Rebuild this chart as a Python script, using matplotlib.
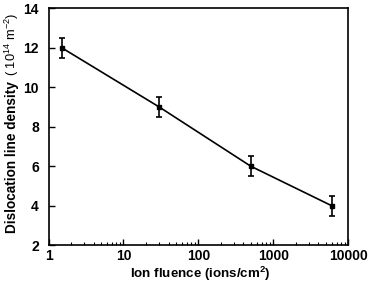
import matplotlib
matplotlib.use("Agg")
import matplotlib.pyplot as plt
from matplotlib.ticker import LogLocator, NullFormatter

fluence = [1.5, 30, 500, 6000]
density = [12, 9, 6, 4]
err = [0.5, 0.5, 0.5, 0.5]
xticks = [1, 10, 100, 1000, 10000]
xticklabels = ["1", "10", "100", "1000", "10000"]
yticks = [2, 4, 6, 8, 10, 12, 14]

plt.rcParams['font.family'] = ['Liberation Sans', 'DejaVu Sans']
plt.rcParams['mathtext.fontset'] = 'custom'
plt.rcParams['mathtext.rm'] = 'Liberation Sans'
plt.rcParams['mathtext.bf'] = 'Liberation Sans:bold'
plt.rcParams['mathtext.default'] = 'regular'

fig = plt.figure(figsize=(3.68, 2.87), dpi=100)
ax = fig.add_axes([0.132, 0.146, 0.814, 0.825])
ax.errorbar(fluence, density, yerr=err, color='black', lw=1.2, marker='s', ms=3.5,
            capsize=2.5, elinewidth=1.2, capthick=1.2)
ax.set_xscale('log')
ax.set_xlim(1, 10000)
ax.set_ylim(2, 14)
ax.set_xticks(xticks)
ax.set_xticklabels(xticklabels)
ax.xaxis.set_minor_locator(LogLocator(base=10, subs=range(2, 10)))
ax.xaxis.set_minor_formatter(NullFormatter())
ax.set_yticks(yticks)
ax.tick_params(which='major', direction='in', length=4, width=1.0, labelsize=10)
ax.tick_params(which='minor', direction='in', length=2, width=0.8)
ax.tick_params(axis='x', which='major', pad=3)
ax.tick_params(axis='y', which='major', pad=7)
for lab in ax.get_xticklabels() + ax.get_yticklabels():
    lab.set_fontweight('bold')
for s in ax.spines.values():
    s.set_linewidth(1.2)

fig.text(0.545, 0.03, "Ion fluence (ions/cm$\\mathbf{^2}$)", ha='center', va='baseline',
         fontsize=9.6, fontweight='bold')
fig.text(0.033, 0.188, "Dislocation line density", rotation=90,
         ha='center', va='bottom', fontsize=9.8, fontweight='bold')
fig.text(0.033, 0.735, "( 10$^{14}$ m$^{-2}$)", rotation=90,
         ha='center', va='bottom', fontsize=9.3)

fig.savefig("out.png", dpi=100)
